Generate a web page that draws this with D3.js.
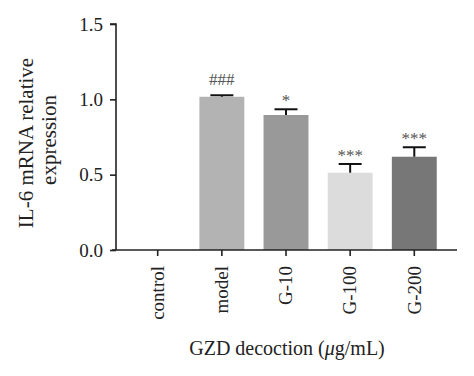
<!DOCTYPE html>
<html lang="en">

<head>
  <meta charset="utf-8">
  <title>IL-6 mRNA</title>
  <script src="https://d3js.org/d3.v7.min.js" charset="utf-8"></script>
  <style type="text/css">
    body {
      margin: 0;
      background: #fff;
    }

    text {
      font-family: "Liberation Serif", "DejaVu Serif", serif;
      fill: #222;
    }
  </style>
</head>

<body>

  <svg id="chart"></svg>

  <script type="text/javascript">
    const groups = ["control", "model", "G-10", "G-100", "G-200"];
    const means = [0, 1.017, 0.896, 0.513, 0.619];
    const errors = [0, 0.01, 0.038, 0.058, 0.063];
    const marks = ["", "###", "*", "***", "***"];
    const colors = ["#cccccc", "#b3b3b3", "#999999", "#dcdcdc", "#777777"];
    const yTicks = [0, 0.5, 1.0, 1.5];

    const W = 474, H = 376;
    const mLeft = 116, mRight = 456, mTop = 24, mBottom = 250;

    const svg = d3.select("#chart")
      .attr("width", W)
      .attr("height", H);

    const y = d3.scaleLinear()
      .domain([0, 1.5])
      .range([mBottom, mTop]);

    const x = d3.scaleBand()
      .domain(groups)
      .range([mLeft, mRight])
      .padding(0.3);

    const data = groups.map((g, i) => ({
      g: g, v: means[i], e: errors[i], m: marks[i], c: colors[i]
    }));

    // bars
    svg.selectAll(".bar")
      .data(data)
      .enter()
      .append("rect")
      .attr("class", "bar")
      .attr("x", d => x(d.g))
      .attr("y", d => y(d.v))
      .attr("width", x.bandwidth())
      .attr("height", d => mBottom - y(d.v))
      .attr("fill", d => d.c);

    // error bars (upper only)
    const eb = svg.selectAll(".err")
      .data(data.filter(d => d.v > 0))
      .enter()
      .append("g")
      .attr("class", "err")
      .attr("stroke", "#111")
      .attr("stroke-width", 2);

    eb.append("line")
      .attr("x1", d => x(d.g) + x.bandwidth() / 2)
      .attr("x2", d => x(d.g) + x.bandwidth() / 2)
      .attr("y1", d => y(d.v))
      .attr("y2", d => y(d.v + d.e));

    eb.append("line")
      .attr("x1", d => x(d.g) + x.bandwidth() / 2 - 11.5)
      .attr("x2", d => x(d.g) + x.bandwidth() / 2 + 11.5)
      .attr("y1", d => y(d.v + d.e))
      .attr("y2", d => y(d.v + d.e));

    // significance marks
    svg.selectAll(".mark")
      .data(data)
      .enter()
      .append("text")
      .attr("class", "mark")
      .attr("x", d => x(d.g) + x.bandwidth() / 2)
      .attr("y", d => y(d.v + d.e) - (d.m[0] === "#" ? 10 : 3))
      .attr("text-anchor", "middle")
      .attr("font-size", 17)
      .style("fill", "#555")
      .text(d => d.m);

    // axes
    const yAxis = svg.append("g")
      .attr("transform", `translate(${mLeft},0)`)
      .call(d3.axisLeft(y)
        .tickValues(yTicks)
        .tickFormat(d3.format(".1f"))
        .tickSize(6)
        .tickPadding(7));

    const xAxis = svg.append("g")
      .attr("transform", `translate(0,${mBottom})`)
      .call(d3.axisBottom(x)
        .tickSize(6)
        .tickSizeOuter(0));

    [yAxis, xAxis].forEach(a => {
      a.select(".domain").attr("stroke", "#222").attr("stroke-width", 1.6);
      a.selectAll(".tick line").attr("stroke", "#222").attr("stroke-width", 1.6);
    });
    yAxis.select(".domain").attr("d", `M-6,${mTop}H0V${mBottom}`);
    xAxis.select(".domain").attr("d", `M${mLeft - 4},0H${mRight + 1}`);

    yAxis.selectAll(".tick text")
      .attr("font-size", 19)
      .style("fill", "#222");

    xAxis.selectAll(".tick text")
      .attr("font-size", 19)
      .style("fill", "#222")
      .attr("text-anchor", "end")
      .attr("transform", "rotate(-90)")
      .attr("x", -16)
      .attr("y", 0)
      .attr("dy", "0.33em");

    // axis titles
    svg.append("text")
      .attr("transform", `translate(33,143) rotate(-90)`)
      .attr("text-anchor", "middle")
      .attr("font-size", 21)
      .text("IL-6 mRNA relative");

    svg.append("text")
      .attr("transform", `translate(56,140) rotate(-90)`)
      .attr("text-anchor", "middle")
      .attr("font-size", 21)
      .text("expression");

    svg.append("text")
      .attr("x", 287)
      .attr("y", 355)
      .attr("text-anchor", "middle")
      .attr("font-size", 20)
      .html("GZD decoction (<tspan font-style=\"italic\">μ</tspan>g/mL)");
  </script>
</body>

</html>
